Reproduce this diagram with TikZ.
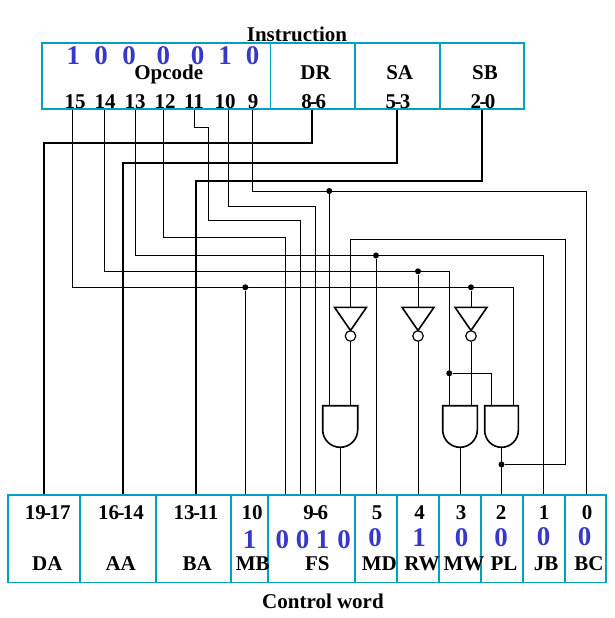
\documentclass[tikz,border=0pt]{standalone}
\usepackage{fontspec}
\setmainfont{Liberation Serif}
\definecolor{cellc}{HTML}{00A0C0}
\definecolor{bitc}{HTML}{3838C8}
\newcommand{\hy}{\kern-1.6pt-\kern-1.6pt}
\tikzset{
  cell/.style={draw=cellc,line width=1.6pt,inner sep=0pt,rectangle},
  lab/.style={anchor=base,inner sep=0pt,font=\fontsize{21}{21}\selectfont\bfseries,text=black},
  bit/.style={anchor=base,inner sep=0pt,font=\fontsize{27}{27}\selectfont\bfseries,text=bitc},
  wire/.style={line width=0.8pt,black},
  bus/.style={line width=1.6pt,black},
  gate/.style={line width=1.6pt,black,fill=white},
  bub/.style={circle,draw,line width=1.2pt,minimum size=10.5pt,inner sep=0pt,fill=white},
  jdot/.style={circle,fill=black,minimum size=6pt,inner sep=0pt},
}
\newcommand{\fieldcell}[5]{% name x1 x2 y1 y2
  \pgfmathsetmacro{\cw}{#3-#2}\pgfmathsetmacro{\ch}{#5-#4}
  \pgfmathsetmacro{\cx}{(#2+#3)/2}\pgfmathsetmacro{\cy}{(#4+#5)/2}
  \node[cell,minimum width=\cw pt,minimum height=\ch pt] (#1) at (\cx,\cy) {};}
\newcommand{\andgate}[5]{% name x1 x2 top bottom
  \pgfmathsetmacro{\gr}{(#3-#2)/2}
  \draw[gate] (#2,#4) -- (#3,#4) -- (#3,#5-\gr) arc[start angle=0,end angle=-180,radius=\gr pt] -- cycle;
  \pgfmathsetmacro{\gc}{(#2+#3)/2}
  \coordinate (#1o) at (\gc,#5);}
\newcommand{\invgate}[2]{% name cx
  \draw[gate] (#2-16,307.3) -- (#2+16,307.3) -- (#2,330.5) -- cycle;
  \node[bub] (#1b) at (#2,336) {};}
\begin{document}
\begin{tikzpicture}[x=1pt,y=-1pt]
\useasboundingbox (0,0) rectangle (615,618);
% pins on the instruction register
\foreach \n/\x in {i15/72.7,i14/104.3,i13/135.3,i12/163.7,i11/194.7,i10/228.7,i9/252.3}
  \coordinate (\n) at (\x,108.7);
\coordinate (iDR) at (312,108.7);
\coordinate (iSA) at (397,108.7);
\coordinate (iSB) at (482,108.7);
% pins on the control word
\foreach \n/\x in {cDA/44,cAA/123,cBA/195.8,cMB/245.3,cF3/285,cF2/300.7,cF1/315.3,cF0/340.2,cMD/376,cRW/418,cMW/460,cPL/501.5,cJB/543.7,cBC/586.3}
  \coordinate (\n) at (\x,495);
% gate pins
\coordinate (a1l) at (329.3,405.7);
\coordinate (a1r) at (350.5,405.7);
\coordinate (a2l) at (449.3,405.7);
\coordinate (a2r) at (471,405.7);
\coordinate (a3l) at (491.7,405.7);
\coordinate (a3r) at (513.3,405.7);
% wire corners
\coordinate (b11a) at (208,127.3);
\coordinate (b11b) at (208,220);
\coordinate (t9) at (586.3,191);
% buses
\draw[bus] (iDR) |- (44,142.7) -- (cDA);
\draw[bus] (iSA) |- (123,162.7) -- (cAA);
\draw[bus] (iSB) |- (195.8,180.7) -- (cBA);
% junctions
\node[jdot] (d9) at (329.3,191) {};
\node[jdot] (d13) at (376,255.5) {};
\node[jdot] (d14) at (418,271.3) {};
\node[jdot] (d15a) at (471,287.3) {};
\node[jdot] (d15b) at (245.3,287.3) {};
\node[jdot] (d14b) at (449.3,373.3) {};
\node[jdot] (dPL) at (501.5,464.5) {};
% thin wires
\draw[wire] (i15) |- (513.3,287.7) -- (a3r);
\draw[wire] (i14) |- (449.3,271.7) -- (a2l);
\draw[wire] (i13) |- (543.7,255.7) -- (cJB);
\draw[wire] (i12) |- (285,237.5) -- (cF3);
\draw[wire] (i11) |- (b11a) -- (b11b) -| (cF2);
\draw[wire] (i10) |- (315.3,206) -- (cF1);
\draw[wire] (i9) |- (t9) -- (cBC);
\draw[wire] (d9) -- (a1l);
\draw[wire] (d13) -- (cMD);
\draw[wire] (d15b) -- (cMB);
\draw[wire] (d14b) -| (a3l);
\draw[wire] (dPL) -| (565.3,239.3) -| (350.5,307.3);
\draw[wire] (d14) -- (418,307.3);
\draw[wire] (d15a) -- (471,307.3);
% gates
\invgate{n1}{350.5}
\invgate{n2}{418}
\invgate{n3}{471}
\andgate{a1}{322.7}{357.7}{405.7}{447.3}
\andgate{a2}{442.7}{477.3}{405.7}{447.3}
\andgate{a3}{484.7}{518.3}{405.7}{447.3}
\draw[wire] (n1b) -- (a1r);
\draw[wire] (n2b) -- (cRW);
\draw[wire] (n3b) -- (a2r);
\draw[wire] (a1o) -- (cF0);
\draw[wire] (a2o) -- (cMW);
\draw[wire] (a3o) -- (cPL);
% registers
\fieldcell{opc}{42}{270.5}{43}{108.7}
\fieldcell{dr}{270.5}{354.7}{43}{108.7}
\fieldcell{sa}{354.7}{439.7}{43}{108.7}
\fieldcell{sb}{439.7}{524}{43}{108.7}
\fieldcell{da}{7.7}{80}{495}{582.3}
\fieldcell{aa}{80}{155.7}{495}{582.3}
\fieldcell{ba}{155.7}{230.7}{495}{582.3}
\fieldcell{mb}{230.7}{268}{495}{582.3}
\fieldcell{fs}{268}{354.7}{495}{582.3}
\fieldcell{md}{354.7}{397}{495}{582.3}
\fieldcell{rw}{397}{439}{495}{582.3}
\fieldcell{mw}{439}{481}{495}{582.3}
\fieldcell{pl}{481}{523}{495}{582.3}
\fieldcell{jb}{523}{565}{495}{582.3}
\fieldcell{bc}{565}{606}{495}{582.3}
% labels
\node[lab] (tI) at (297,42) {Instruction};
\node[lab] (tC) at (323,608.3) {Control word};
\node[lab] (tO) at (168.7,79.3) {Opcode};
\foreach \n/\x/\t in {tDR/315.5/DR,tSA/399.7/SA,tSB/485/SB}
  \node[lab] (\n) at (\x,79.3) {\t};
\foreach \n/\x/\t in {n15/75/15,n14/105/14,n13/135/13,n12/165/12,n11/194/11,n10/225/10,n9/253/9,n86/313.7/8\hy6,n53/398/5\hy3,n20/483/2\hy0}
  \node[lab] (\n) at (\x,108) {\t};
\foreach \n/\x/\t in {m19/47.7/19\hy17,m16/121/16\hy14,m13/196/13\hy11,m10/252/10,m96/315.7/9\hy6,m5/377/5,m4/419.7/4,m3/461/3,m2/501/2,m1/544/1,m0/587/0}
  \node[lab] (\n) at (\x,519.3) {\t};
\foreach \n/\x/\t in {lDA/47.3/DA,lAA/120.7/AA,lBA/197.3/BA,lMB/252.7/MB,lFS/317.3/FS,lMD/379.3/MD,lRW/422/RW,lMW/464/MW,lPL/504/PL,lJB/546/JB,lBC/589/BC}
  \node[lab] (\n) at (\x,570.7) {\t};
% blue bits
\foreach \n/\x/\t in {p1/73.3/1,p2/101/0,p3/129/0,p4/163.3/0,p5/197.7/0,p6/225/1,p7/252.7/0}
  \node[bit] (\n) at (\x,65) {\t};
\foreach \n/\x/\y/\t in {q1/249.7/548.3/1,q2/282.3/548.3/0,q3/302.7/548.3/0,q4/322.7/548.3/1,q5/344/548.3/0,q6/375/546.7/0,q7/419/546.3/1,q8/461.7/546.7/0,q9/501/546.7/0,q10/543.7/545/0,q11/584.7/545/0}
  \node[bit] (\n) at (\x,\y) {\t};
\end{tikzpicture}
\end{document}
